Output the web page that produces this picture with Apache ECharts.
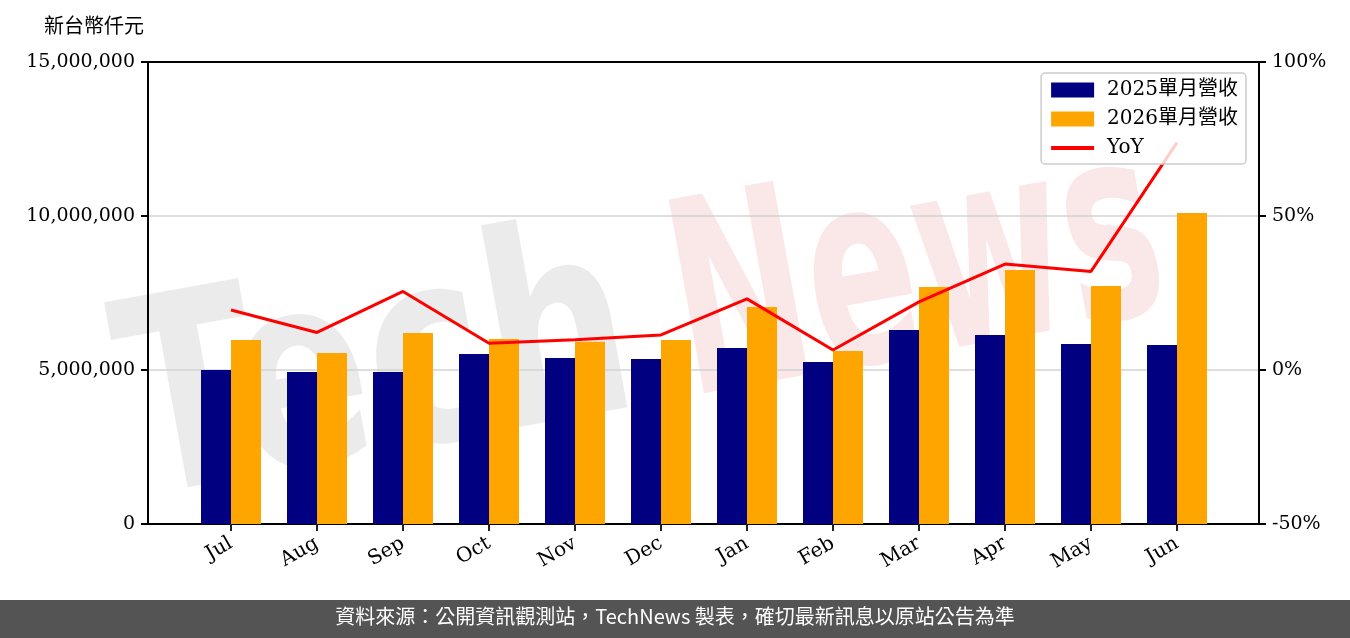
<!DOCTYPE html>
<html>
<head>
<meta charset="utf-8">
<script src="https://cdn.jsdelivr.net/npm/echarts@6/dist/echarts.min.js"></script>
<style>
  html, body { margin: 0; padding: 0; background: #fff; }
  #main { width: 1350px; height: 638px; }
</style>
</head>
<body>
<div id="main"></div>
<script>
// 月份
var months = ['Jul', 'Aug', 'Sep', 'Oct', 'Nov', 'Dec', 'Jan', 'Feb', 'Mar', 'Apr', 'May', 'Jun'];
// 單月營收(新台幣仟元)
var rev2025 = [5000000, 4935000, 4935000, 5520000, 5390000, 5357000, 5714000, 5260000, 6300000, 6136000, 5844000, 5810000];
var rev2026 = [5974000, 5552000, 6200000, 6006000, 5920000, 5970000, 7045000, 5617000, 7695000, 8247000, 7727000, 10100000];
// 年增率(%)
var yoy = [19.5, 12.2, 25.5, 8.7, 9.8, 11.4, 23.1, 6.5, 22.1, 34.4, 32.0, 73.8];
// 刻度
var leftTicks = [0, 15000000, 5000000];
var rightTicks = [-50, 100, 50];

var serif = "'DejaVu Serif', 'Noto Sans CJK TC', serif";
var cjk = "'Noto Sans CJK TC', sans-serif";

var chart = echarts.init(document.getElementById('main'));

var frameLine = { show: true, onZero: false, lineStyle: { color: '#000', width: 2 } };

var option = {
    animation: false,
    backgroundColor: '#fff',
    grid: [
        { left: 148, right: 91, top: 62, bottom: 114 },
        { left: 188, width: 1032, top: 62, bottom: 114 }
    ],
    legend: {
        orient: 'vertical',
        right: 104,
        top: 73,
        backgroundColor: 'rgba(255,255,255,0.8)',
        borderColor: '#cccccc',
        borderWidth: 1.5,
        borderRadius: 4,
        padding: [7, 8, 6, 8],
        itemWidth: 43,
        itemHeight: 15,
        itemGap: 9,
        textStyle: { fontFamily: serif, fontSize: 20, lineHeight: 20, color: '#000', padding: [0, 0, 0, 8] },
        data: [
            { name: '2025單月營收', icon: 'rect' },
            { name: '2026單月營收', icon: 'rect' },
            { name: 'YoY', itemStyle: { opacity: 0 }, lineStyle: { width: 4 } }
        ]
    },
    xAxis: [
        { gridIndex: 0, type: 'value', min: 0, max: 1, position: 'bottom',
          axisLine: frameLine, axisTick: { show: false }, axisLabel: { show: false }, splitLine: { show: false } },
        {
            gridIndex: 1, type: 'category', data: months,
            axisLine: { show: false },
            axisTick: { show: true, alignWithLabel: true, length: 7, lineStyle: { color: '#222', width: 2 } },
            axisLabel: { rotate: 30, margin: 18, fontFamily: serif, fontSize: 20, color: '#000' },
            splitLine: { show: false }
        },
        { gridIndex: 0, type: 'value', min: 0, max: 1, position: 'top',
          axisLine: frameLine, axisTick: { show: false }, axisLabel: { show: false }, splitLine: { show: false } }
    ],
    yAxis: [
        {
            gridIndex: 0, type: 'value', position: 'left',
            min: leftTicks[0], max: leftTicks[1], interval: leftTicks[2],
            axisLine: frameLine,
            axisTick: { show: true, length: 7, lineStyle: { color: '#000', width: 2 } },
            axisLabel: {
                margin: 13, fontFamily: serif, fontSize: 19, color: '#000',
                formatter: function (v) { return v.toLocaleString('en-US'); }
            },
            splitLine: { show: true, lineStyle: { color: '#d3d3d3', width: 1.5 } }
        },
        {
            gridIndex: 0, type: 'value', position: 'right',
            min: rightTicks[0], max: rightTicks[1], interval: rightTicks[2],
            axisLine: frameLine,
            axisTick: { show: true, length: 7, lineStyle: { color: '#000', width: 2 } },
            axisLabel: { margin: 13, fontFamily: serif, fontSize: 19, color: '#000', formatter: '{value}%' },
            splitLine: { show: false }
        },
        { gridIndex: 1, type: 'value', min: leftTicks[0], max: leftTicks[1], show: false, splitLine: { show: false } },
        { gridIndex: 1, type: 'value', min: rightTicks[0], max: rightTicks[1], show: false, splitLine: { show: false } }
    ],
    series: [
        {
            name: '2025單月營收', type: 'bar', xAxisIndex: 1, yAxisIndex: 2,
            data: rev2025, barWidth: 30, barGap: '0%',
            itemStyle: { color: '#000080' }, z: 2
        },
        {
            name: '2026單月營收', type: 'bar', xAxisIndex: 1, yAxisIndex: 2,
            data: rev2026, barWidth: 30, barGap: '0%',
            itemStyle: { color: '#FFA500' }, z: 2
        },
        {
            name: 'YoY', type: 'line', xAxisIndex: 1, yAxisIndex: 3,
            data: yoy, symbol: 'none', showSymbol: false,
            lineStyle: { color: '#ff0000', width: 3 }, itemStyle: { color: '#ff0000' }, z: 3
        }
    ],
    graphic: [
        {
            type: 'text', left: 44, top: 15,
            style: { text: '新台幣仟元', fontFamily: cjk, fontSize: 20, fill: '#000' }
        },
        // 浮水印
        {
            type: 'group', x: 150, y: 560, rotation: 0.18, z: 100, silent: true,
            children: [
                {
                    type: 'text', x: 0, y: 0, scaleX: 0.75,
                    style: { text: 'Tech', fontFamily: "'DejaVu Sans'", fontWeight: 'bold', fontSize: 270, fill: 'rgba(128,128,128,0.16)', textVerticalAlign: 'bottom' }
                },
                {
                    type: 'text', x: 560, y: 0, scaleX: 0.6,
                    style: { text: 'News', fontFamily: "'DejaVu Sans'", fontWeight: 'bold', fontSize: 270, fill: 'rgba(210,60,60,0.12)', textVerticalAlign: 'bottom' }
                }
            ]
        },
        // 頁尾
        {
            type: 'rect', left: 0, top: 600, z: 110,
            shape: { width: 1350, height: 38 },
            style: { fill: '#545454' }
        },
        {
            type: 'text', left: 'center', top: 606, z: 111,
            style: { text: '資料來源：公開資訊觀測站，TechNews 製表，確切最新訊息以原站公告為準', fontFamily: cjk, fontSize: 20, fill: '#fff' }
        }
    ]
};

chart.setOption(option);
</script>
</body>
</html>
